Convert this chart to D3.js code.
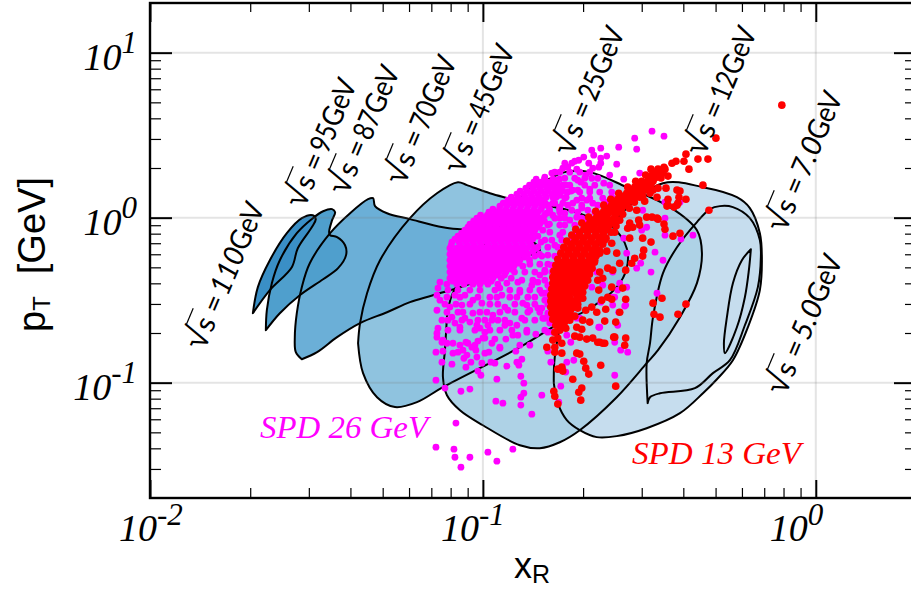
<!DOCTYPE html>
<html>
<head>
<title>pT vs xR coverage</title>
<script src="https://cdn.jsdelivr.net/npm/d3@7"></script>
<style>
    html, body { margin: 0; padding: 0; background: #fff; overflow: hidden; }
    svg { display: block; }
    .ser { font-family: 'Liberation Serif', serif; font-style: italic; }
    .san { font-family: 'Liberation Sans', sans-serif; }
    .lab { font-family: Lato, sans-serif; }
</style>
</head>
<body>
<div id="visDiv"></div>
<script>

// contour of each experiment, drawn from the widest to the narrowest
var region5 = [[-.195,-.191],[-.222,-.258],[-.249,-.397],[-.267,-.603],[-.276,-.761],[-.273,-.821],[-.237,-.664],[-.213,-.482],[-.201,-.318],[-.195,-.191]];
var region7 = [[-.505,-1.124],[-.508,-.882],[-.498,-.761],[-.489,-.603],[-.459,-.336],[-.417,-.179],[-.357,-.027],[-.318,.052],[-.288,.070],[-.249,.064],[-.198,-.003],[-.168,-.136],[-.165,-.239],[-.174,-.421],[-.213,-.652],[-.258,-.864],[-.309,-.942],[-.363,-1.033],[-.468,-1.064],[-.498,-1.088],[-.505,-1.124]];
var region12 = [[-.787,-1.003],[-.784,-.845],[-.754,-.561],[-.679,-.258],[-.589,.015],[-.459,.209],[-.339,.185],[-.237,.124],[-.198,.058],[-.168,-.094],[-.162,-.239],[-.168,-.439],[-.204,-.664],[-.249,-.864],[-.297,-.979],[-.339,-1.064],[-.408,-1.185],[-.508,-1.276],[-.598,-1.324],[-.658,-1.330],[-.709,-1.288],[-.748,-1.227],[-.775,-1.124],[-.787,-1.003]];
var region25 = [[-1.108,-.603],[-1.093,-.470],[-1.039,-.288],[-.949,-.045],[-.874,.155],[-.808,.227],[-.754,.276],[-.679,.276],[-.568,.185],[-.438,.064],[-.357,-.076],[-.342,-.215],[-.357,-.397],[-.408,-.603],[-.474,-.803],[-.508,-.882],[-.598,-1.088],[-.709,-1.288],[-.769,-1.361],[-.829,-1.397],[-.889,-1.379],[-1,-1.258],[-1.069,-1.167],[-1.108,-1.076],[-1.120,-.967],[-1.114,-.803],[-1.108,-.603]];
var region45 = [[-1.375,-.761],[-1.369,-.639],[-1.348,-.458],[-1.309,-.258],[-1.219,-.003],[-1.138,.148],[-1.075,.215],[-1.048,.197],[-.979,.148],[-.925,.118],[-.868,.088],[-.769,.058],[-.688,.009],[-.610,-.058],[-.568,-.185],[-.568,-.306],[-.598,-.421],[-.688,-.561],[-.769,-.639],[-.889,-.785],[-1.120,-1.027],[-1.198,-1.118],[-1.264,-1.148],[-1.318,-1.088],[-1.360,-.942],[-1.375,-.761]];
var region70 = [[-1.544,-.858],[-1.562,-.815],[-1.565,-.724],[-1.559,-.579],[-1.544,-.421],[-1.520,-.276],[-1.459,-.094],[-1.399,.027],[-1.345,.112],[-1.330,.118],[-1.324,.070],[-1.288,.027],[-1.219,-.009],[-1.120,-.058],[-1.048,-.076],[-.949,-.106],[-.859,-.136],[-.829,-.197],[-.889,-.246],[-.934,-.276],[-1.018,-.385],[-1.150,-.470],[-1.219,-.512],[-1.288,-.573],[-1.369,-.639],[-1.438,-.724],[-1.498,-.815],[-1.544,-.858]];
var region95 = [[-1.652,-.682],[-1.649,-.561],[-1.634,-.397],[-1.610,-.258],[-1.559,-.094],[-1.511,-.003],[-1.480,.039],[-1.453,.052],[-1.444,.033],[-1.453,-.015],[-1.462,-.088],[-1.459,-.106],[-1.438,-.118],[-1.414,-.167],[-1.411,-.227],[-1.435,-.306],[-1.480,-.373],[-1.550,-.470],[-1.610,-.579],[-1.652,-.682]];
var region110 = [[-1.691,-.579],[-1.676,-.421],[-1.640,-.258],[-1.589,-.094],[-1.544,-.003],[-1.511,.015],[-1.502,-.009],[-1.514,-.058],[-1.556,-.185],[-1.574,-.300],[-1.640,-.439],[-1.691,-.579]];

// SPD 26 GeV, rows of the dense core: [log10 pT, [log10 xR ...]]
var magentaCore = [
    [.233, [-.84,-.815,-.79,-.77]],
    [.215, [-.847,-.826,-.805,-.784]],
    [.197, [-.86,-.84,-.818,-.797,-.776,-.75]],
    [.179, [-.871,-.85,-.829,-.808,-.787,-.766]],
    [.161, [-.888,-.867,-.846,-.825,-.804,-.783,-.76,-.735]],
    [.142, [-.898,-.877,-.856,-.835,-.814,-.793,-.772]],
    [.124, [-.915,-.894,-.873,-.852,-.831,-.81,-.78,-.75]],
    [.106, [-.925,-.904,-.883,-.862,-.841]],
    [.088, [-.939,-.918,-.897,-.876,-.855,-.834,-.813,-.79,-.76]],
    [.07, [-.949,-.928,-.907,-.886,-.865,-.844,-.823]],
    [.051, [-.97,-.95,-.93,-.909,-.888,-.867,-.846,-.825,-.8,-.77]],
    [.033, [-.982,-.961,-.94,-.919,-.898,-.877,-.856,-.835]],
    [.015, [-1.007,-.987,-.966,-.945,-.924,-.903,-.882,-.861,-.84,-.815]],
    [-.003, [-1.018,-.997,-.976,-.955,-.934,-.913,-.892,-.871,-.85,-.829]],
    [-.021, [-1.028,-1.007,-.986,-.965,-.944,-.923,-.902,-.881,-.86,-.839,-.815]],
    [-.039, [-1.039,-1.018,-.997,-.976,-.955,-.934,-.913,-.892,-.871,-.85,-.829,-.8]],
    [-.057, [-1.045,-1.024,-1.003,-.982,-.961,-.94,-.919,-.898,-.877,-.856,-.835]],
    [-.076, [-1.054,-1.033,-1.012,-.991,-.97,-.949,-.928,-.907,-.886,-.865,-.844,-.82]],
    [-.094, [-1.064,-1.043,-1.022,-1.001,-.98,-.959,-.938,-.917,-.896,-.875,-.85]],
    [-.112, [-1.075,-1.054,-1.033,-1.012,-.991,-.97,-.949,-.928,-.907,-.886,-.865,-.835]],
    [-.13, [-1.084,-1.063,-1.042,-1.021,-1,-.979,-.958,-.937,-.916,-.895,-.874,-.85]],
    [-.148, [-1.093,-1.072,-1.051,-1.03,-1.009,-.988,-.967,-.946,-.925,-.904,-.883,-.862,-.825]],
    [-.166, [-1.095,-1.068,-1.047,-1.026,-1.005,-.984,-.963,-.942,-.921,-.9,-.879,-.855]],
    [-.185, [-1.099,-1.078,-1.057,-1.036,-1.015,-.994,-.973,-.952,-.931,-.91,-.889,-.868,-.84]],
    [-.203, [-1.088,-1.067,-1.046,-1.025,-1.004,-.983,-.962,-.941,-.92,-.899,-.878,-.85]],
    [-.221, [-1.099,-1.075,-1.054,-1.033,-1.012,-.991,-.97,-.949,-.928,-.907,-.886,-.865,-.83]],
    [-.239, [-1.088,-1.064,-1.043,-1.022,-1.001,-.98,-.959,-.938,-.917,-.896,-.875]],
    [-.258, [-1.099,-1.078,-1.057,-1.036,-1.015,-.994,-.973,-.952,-.931,-.91,-.889,-.86]],
    [-.276, [-1.088,-1.067,-1.046,-1.025,-1.004,-.983,-.962,-.941,-.92,-.895]],
    [-.294, [-1.099,-1.075,-1.054,-1.033,-1.012,-.991,-.97,-.949,-.928,-.907,-.88]],
    [-.312, [-1.088,-1.064,-1.043,-1.022,-1.001,-.98,-.959,-.938,-.917]],
    [-.33, [-1.099,-1.078,-1.057,-1.036,-1.015,-.994,-.973,-.952,-.931,-.905]],
    [-.348, [-1.088,-1.067,-1.046,-1.025,-1.004,-.983,-.96,-.935]],
    [-.367, [-1.099,-1.075,-1.054,-1.033,-1.012,-.991,-.97,-.945,-.915]],
    [-.385, [-1.09,-1.064,-1.043,-1.02,-.998,-.975]],
    [-.403, [-1.108,-1.078,-1.057,-1.03,-1.009,-.985,-.955]]
];
// SPD 26 GeV, looser rows toward the red band and below the core
var magentaLoose = [
    [.276, [-.769,-.739,-.709,-.679]],
    [.239, [-.754,-.724,-.694,-.655]],
    [.197, [-.739,-.694,-.664,-.619]],
    [.155, [-.745,-.709,-.679,-.649,-.613]],
    [.118, [-.754,-.679,-.640,-.589]],
    [.076, [-.814,-.745,-.703,-.655,-.619]],
    [.033, [-.799,-.769,-.715,-.664,-.631]],
    [-.003, [-.784,-.754,-.703,-.661]],
    [-.045, [-.805,-.769,-.724,-.679]],
    [-.088, [-.799,-.760,-.715]],
    [-.136, [-.814,-.793,-.763,-.733]],
    [-.179, [-.835,-.805,-.775]],
    [-.233, [-.844,-.823,-.784]],
    [-.282, [-.859,-.829,-.805,-.775]],
    [-.33, [-.874,-.844,-.814,-.793]],
    [-.379, [-.883,-.814,-.784]],
    [-.439, [-1.105,-1.075,-1.039,-1.009,-.964,-.889,-.859,-.829,-.799]],
    [-.482, [-1.069,-1.015,-.958,-.919,-.865,-.799]],
    [-.524, [-1.114,-1.081,-1.039,-.979,-.955,-.904,-.844,-.805]],
    [-.573, [-1.108,-1.075,-1.009,-.988,-.949,-.904,-.865,-.829]],
    [-.621, [-1.105,-1.063,-1.015,-.973,-.934,-.874,-.844]],
    [-.682, [-1.105,-1.069,-1.024,-.979,-.949,-.913,-.868,-.814]],
    [-.773, [-1.069,-1.024,-.889,-.859]]
];
// SPD 26 GeV, single points around the core
var magentaLow = [[-1.081,-1.245],[-1.141,-1.391],[-1.087,-1.403],[-1.084,-1.452],[-1.039,-1.452],[-1.066,-1.512],[-.985,-1.421],[-.958,-1.476],[-.910,-1.403],[-.853,-1.191],[-.886,-1.136],[-.940,-1.124],[-.961,-1.112],[-1.039,-1.039],[-1.066,-1.052],[-1.114,-1.033],[-1.141,-.985],[-.958,-.979],[-.877,-1.003],[-.877,-1.064],[-.886,-1.088],[-.823,-1.076],[-.766,-1.021],[-.604,-.955],[-.883,-.858],[-.886,-.961],[-.928,-.900],[-.898,-.876],[-.892,-.894],[-1.003,-.882],[-.964,-.882],[-.976,-.876],[-1.015,-.930],[-1.006,-.955],[-1.018,-.845],[-1.051,-.906],[-1.093,-.888],[-1.123,-.876],[-1.141,-.815],[-1.120,-.809],[-1.090,-.821],[-1.075,-.815],[-1.057,-.852],[-1.036,-.876],[-1.021,-.803],[-.994,-.821],[-.982,-.815],[-.949,-.791],[-.901,-.809],[-1.015,-.748],[-1.051,-.755],[-1.090,-.761],[-1.123,-.755],[-1.138,-.700],[-.931,-.736],[-.964,-.736],[-.994,-.730],[-.973,-.761],[-.910,-.712],[-.895,-.712],[-.868,-.694],[-.841,-.706],[-.817,-.609],[-.805,-.809],[-.796,-.876],[-.748,-.876],[-.727,-.864],[-.736,-.755],[-.760,-.912],[-.751,-.936],[-.772,-1.118],[-.649,-.664],[-.595,-.652],[-.586,-.803],[-.565,-.815],[-.604,-.755],[-.718,-.609]];
var magentaHigh = [[-.492,.524],[-.544,.482],[-.456,.494],[-.538,.415],[-.592,.427],[-.646,.421],[-.673,.409],[-.697,.367],[-.667,.379],[-.628,.373],[-.646,.361],[-.646,.330],[-.598,.324],[-.682,.330],[-.670,.300],[-.652,.306],[-.619,.258],[-.577,.233],[-.529,.270],[-.712,.348],[-.724,.342],[-.733,.330],[-.754,.330],[-.760,.300],[-.745,.306],[-.718,.294],[-.691,.258],[-.673,.239],[-.715,.227],[-.706,.215],[-.637,.209],[-.679,.173],[-.730,.167],[-.715,.167],[-.760,.197],[-.775,.227],[-.784,.276],[-.793,.270],[-.814,.245],[-.805,.185],[-.772,.167],[-.769,.136],[-.790,.124],[-.613,.124],[-.634,.094],[-.598,.094],[-.703,.118],[-.718,.106],[-.688,.106],[-.670,.088],[-.730,.088],[-.733,.045],[-.703,.058],[-.685,.045],[-.658,.027],[-.754,.027],[-.769,.064],[-.784,.088],[-.805,.076],[-.820,.106],[-.808,.027],[-.790,.015],[-.769,-.003],[-.739,-.015],[-.718,.003],[-.688,-.027],[-.520,.045],[-.453,.094],[-.453,-.003],[-.508,-.058],[-.523,-.076],[-.453,-.106],[-.369,-.106],[-.408,.094]];
var magentaMid = [[-.568,-.215],[-.483,-.209],[-.459,-.258],[-.495,-.330],[-.526,-.276],[-.538,-.306],[-.477,-.458],[-.571,-.530],[-.652,-.664],[-.405,-.130],[-.577,-.124],[-.568,-.421],[-.589,-.397],[-.610,-.482],[-.640,-.409],[-.673,-.421],[-.658,-.330],[-.610,-.330],[-1.129,-.391],[-1.135,-.427],[-1.138,-.470],[-1.129,-.500],[-1.108,-.482],[-1.138,-.561],[-1.123,-.621],[-1.135,-.670],[-1.138,-.724],[-1.120,-.742],[-1.108,-.761],[-1.060,-.803],[-1.045,-.761],[-1.000,-.730],[-.994,-.694],[-.805,-.694],[-1.099,-.542],[-1.093,-.603],[-1.084,-.639],[-1.069,-.664],[-1.054,-.609],[-1.030,-.579],[-1.039,-.633],[-1.018,-.652],[-.994,-.621],[-.970,-.591],[-.955,-.621],[-.934,-.652],[-.919,-.639],[-.898,-.652],[-.883,-.609],[-.868,-.530],[-.859,-.561],[-.835,-.548],[-.823,-.548],[-.814,-.500],[-.808,-.609],[-.799,-.639],[-1.063,-.530],[-1.030,-.500],[-1.003,-.518],[-.979,-.482],[-.943,-.470],[-.919,-.439],[-.898,-.482],[-.880,-.518],[-.934,-.542],[-.925,-.561],[-.844,-.482],[-.823,-.458],[-.850,-.379],[-.835,-.391],[-.895,-.391],[-.928,-.397],[-.889,-.452],[-.853,-.409],[-.949,-.427],[-1.054,-.470],[-1.084,-.470],[-1.060,-.573],[-1.009,-.670],[-.985,-.652],[-1.033,-.785],[-1.048,-.833],[-.949,-.785],[-.805,-.227],[-.793,-.288],[-.814,-.318],[-.829,-.348],[-.781,-.379],[-.805,-.409],[-.784,-.167],[-.769,-.106],[-.754,-.045],[-.814,-.458],[-.805,-.579],[-.820,-.609],[-.790,-.694],[-.748,-.712],[-.574,-.536],[-.592,-.573],[-.610,-.530],[-.646,-.512],[-.604,-.482],[-.595,-.439],[-.709,-.609]];

// SPD 13 GeV, rows of the dense band
var redCore = [
    [-.652, [-.781,-.763]],
    [-.634, [-.775,-.755]],
    [-.615, [-.79,-.766,-.745]],
    [-.597, [-.78,-.757,-.735]],
    [-.579, [-.793,-.769,-.742]],
    [-.561, [-.783,-.76,-.737]],
    [-.542, [-.796,-.772,-.748,-.727]],
    [-.524, [-.785,-.762,-.738,-.715]],
    [-.506, [-.796,-.775,-.751,-.724]],
    [-.488, [-.785,-.762,-.738,-.71]],
    [-.47, [-.796,-.772,-.748,-.718]],
    [-.452, [-.783,-.757,-.733,-.71]],
    [-.433, [-.793,-.769,-.745,-.721,-.709]],
    [-.415, [-.78,-.757,-.733,-.71,-.695]],
    [-.397, [-.79,-.766,-.742,-.718,-.703]],
    [-.379, [-.778,-.754,-.73,-.706,-.685]],
    [-.361, [-.79,-.766,-.742,-.718,-.694]],
    [-.343, [-.775,-.751,-.727,-.703,-.68]],
    [-.324, [-.787,-.763,-.739,-.715,-.685]],
    [-.306, [-.77,-.745,-.721,-.697,-.672]],
    [-.288, [-.781,-.757,-.733,-.709,-.682]],
    [-.27, [-.763,-.739,-.715,-.691,-.665]],
    [-.252, [-.775,-.751,-.727,-.703,-.676]],
    [-.233, [-.754,-.73,-.706,-.682,-.66]],
    [-.215, [-.766,-.742,-.718,-.694,-.67]],
    [-.197, [-.745,-.721,-.697,-.673,-.65]],
    [-.179, [-.757,-.733,-.709,-.685,-.661]],
    [-.161, [-.736,-.712,-.688,-.664,-.64]],
    [-.142, [-.748,-.724,-.7,-.676,-.652]],
    [-.124, [-.721,-.697,-.673,-.649,-.63]],
    [-.106, [-.733,-.709,-.685,-.661,-.64]],
    [-.088, [-.709,-.685,-.661,-.637,-.615]],
    [-.07, [-.721,-.697,-.673,-.649,-.628]],
    [-.051, [-.691,-.667,-.643,-.622,-.6]],
    [-.033, [-.703,-.679,-.655,-.631,-.616]],
    [-.015, [-.67,-.646,-.622,-.598]],
    [.003, [-.682,-.658,-.634,-.604]],
    [.021, [-.65,-.625,-.602,-.58]],
    [.039, [-.661,-.637,-.613,-.592]],
    [.057, [-.625,-.603,-.583,-.56]],
    [.076, [-.637,-.613,-.592,-.574]],
    [.094, [-.605,-.585,-.565,-.545]],
    [.112, [-.616,-.595,-.574,-.556]],
    [.13, [-.58,-.56,-.54,-.52]],
    [.148, [-.592,-.568,-.547,-.529]],
    [.166, [-.555,-.535,-.517,-.5]],
    [.185, [-.565,-.544,-.526,-.508]],
    [.203, [-.53,-.512,-.495]],
    [.221, [-.541,-.523,-.505,-.489]],
    [.24, [-.5,-.483,-.465]],
    [.258, [-.511,-.492,-.474]],
    [.276, [-.485,-.465]],
    [.294, [-.495,-.474,-.453]]
];
// SPD 13 GeV, single points around the band
var redPoints = [[-.102,.682],[-.300,.482],[-.390,.385],[-.324,.355],[-.354,.355],[-.381,.294],[-.396,.342],[-.420,.342],[-.432,.330],[-.456,.306],[-.444,.252],[-.459,.270],[-.339,.197],[-.321,.045],[-.450,.179],[-.408,.161],[-.417,.167],[-.411,.124],[-.417,.076],[-.444,.076],[-.477,.124],[-.474,.179],[-.489,.167],[-.498,.148],[-.514,.100],[-.529,.124],[-.538,.045],[-.532,-.015],[-.477,-.003],[-.492,.003],[-.508,.003],[-.456,-.039],[-.453,-.070],[-.429,-.112],[-.408,-.094],[-.559,-.033],[-.565,-.064],[-.589,-.015],[-.550,-.058],[-.529,-.045],[-.390,.112],[-.444,.112],[-.447,.070],[-.426,.064],[-.414,.088],[-.474,-.009],[-.495,-.148],[-.520,-.124],[-.559,-.124],[-.613,-.155],[-.598,-.215],[-.589,-.276],[-.571,-.318],[-.544,-.246],[-.553,-.276],[-.517,-.197],[-.520,-.233],[-.628,-.203],[-.649,-.215],[-.610,-.318],[-.625,-.306],[-.649,-.330],[-.640,-.367],[-.613,-.421],[-.580,-.427],[-.652,-.439],[-.700,-.452],[-.700,-.488],[-.643,-.500],[-.625,-.482],[-.613,-.494],[-.571,-.494],[-.589,-.573],[-.631,-.555],[-.658,-.573],[-.673,-.542],[-.691,-.561],[-.715,-.548],[-.730,-.542],[-.462,-.488],[-.489,-.518],[-.390,-.524],[-.486,-.585],[-.468,-.603],[-.414,-.585],[-.634,-.627],[-.601,-.633],[-.700,-.621],[-.718,-.664],[-.703,-.676],[-.607,-.724],[-.571,-.730],[-.574,-.773],[-.640,-.761],[-.655,-.755],[-.670,-.730],[-.688,-.736],[-.709,-.724],[-.724,-.718],[-.763,-.761],[-.775,-.730],[-.784,-.785],[-.808,-.785],[-.784,-.815],[-.763,-.821],[-.718,-.821],[-.709,-.827],[-.697,-.870],[-.646,-.894],[-.691,-.912],[-.682,-.948],[-.730,-.979],[-.775,-.918],[-.763,-.906],[-.760,-.930],[-.601,-1.021],[-.703,-1.033],[-.712,-1.058],[-.706,-1.106],[-.787,-1.052],[-.784,-1.082],[-.775,-1.130],[-.649,-.755],[-.634,-.761],[-.604,-.724],[-.769,-.682],[-.751,-.670],[-.739,-.621],[-.724,-.597],[-.679,-.633],[-.784,-.694],[-.790,-.742],[-.679,-.318],[-.694,-.409],[-.664,-.258],[-.634,-.136],[-.604,-.088],[-.655,-.379]];

var energyLabels = ["110", "95", "87", "70", "45", "25", "12", "7.0", "5.0"];
var xDecades = [0.1, 1];
var xLabelExps = ["-2", "-1", "0"];
var xLabelVals = [0.01, 0.1, 1];
var yDecades = [10, 1, 0.1];
var yLabelExps = ["1", "0", "-1"];

var width = 911, height = 591;
var svg = d3.select("#visDiv").append("svg").attr("width", width).attr("height", height);

/* Scales */
var x = d3.scaleLog().domain([0.01, 2]).range([150, 916]);
var y = d3.scaleLog().domain([0.02, 20]).range([498, 3]);

var contour = d3.line()
    .x(function (d) { return x(Math.pow(10, d[0])); })
    .y(function (d) { return y(Math.pow(10, d[1])); })
    .curve(d3.curveCatmullRom.alpha(0.5));

/* Filled regions first, opaque, then every outline on top */
var regions = [
    { pts: region12, fill: "#c6ddee" },
    { pts: region7, fill: "#c6ddee" },
    { pts: region5, fill: "#c6ddee" },
    { pts: region25, fill: "#aed2e6" },
    { pts: region45, fill: "#8fc3df" },
    { pts: region70, fill: "#6bafd7" },
    { pts: region95, fill: "#4f9fcd" },
    { pts: region110, fill: "#3a8fc6" }
];
svg.selectAll(".fill").data(regions).enter().append("path")
    .attr("d", function (d) { return contour(d.pts) + "Z"; })
    .attr("fill", function (d) { return d.fill; });
svg.selectAll(".outline").data(regions).enter().append("path")
    .attr("d", function (d) { return contour(d.pts) + "Z"; })
    .attr("fill", "none")
    .attr("stroke", "#000")
    .attr("stroke-width", 2)
    .attr("stroke-linejoin", "round");

/* Grid at the decades */
svg.selectAll(".gx").data(xDecades).enter().append("line")
    .attr("x1", function (d) { return x(d); }).attr("x2", function (d) { return x(d); })
    .attr("y1", 3).attr("y2", 498)
    .attr("stroke", "#777").attr("stroke-opacity", 0.2).attr("stroke-width", 2);
svg.selectAll(".gy").data(yDecades).enter().append("line")
    .attr("x1", 150).attr("x2", 916)
    .attr("y1", function (d) { return y(d); }).attr("y2", function (d) { return y(d); })
    .attr("stroke", "#777").attr("stroke-opacity", 0.2).attr("stroke-width", 2);

/* Points */
function unrow(rows) {
    return rows.reduce(function (acc, r) {
        return acc.concat(r[1].map(function (v) { return [v, r[0]]; }));
    }, []);
}
function dots(data, color, r) {
    svg.append("g").selectAll("circle").data(data).enter().append("circle")
        .attr("cx", function (d) { return x(Math.pow(10, d[0])); })
        .attr("cy", function (d) { return y(Math.pow(10, d[1])); })
        .attr("r", r)
        .attr("fill", color);
}
dots(unrow(magentaCore).concat(unrow(magentaLoose), magentaLow, magentaHigh, magentaMid), "#ff00ff", 3.4);
dots(unrow(redCore).concat(redPoints), "#ff0000", 3.8);

/* Axes: minor and major ticks on all four sides */
function decadeTicks(lo, hi) {
    var out = [];
    for (var e = lo; e <= hi; e++) {
        for (var m = 2; m <= 9; m++) out.push(m * Math.pow(10, e));
    }
    return out;
}
var xMinor = decadeTicks(-2, -1), xMajor = [0.01, 0.1, 1];
var yMinor = decadeTicks(-2, 0).filter(function (v) { return v > 0.02 && v < 20; });
var yMajor = [0.1, 1, 10];

function addAxis(gen, values, size, tx, ty, sw) {
    var g = svg.append("g")
        .attr("transform", "translate(" + tx + "," + ty + ")")
        .call(gen.tickValues(values).tickSize(size).tickFormat(""));
    g.select(".domain").remove();
    g.selectAll("line").attr("stroke", "#000").attr("stroke-width", sw);
}
addAxis(d3.axisBottom(x), xMinor, -10, 0, 498, 1.2);
addAxis(d3.axisBottom(x), xMajor, -18, 0, 498, 2);
addAxis(d3.axisTop(x), xMinor, -9, 0, 3, 1.2);
addAxis(d3.axisTop(x), xMajor, -19, 0, 3, 2);
addAxis(d3.axisLeft(y), yMinor, -11, 150, 0, 1.2);
addAxis(d3.axisLeft(y), yMajor, -22, 150, 0, 2);
addAxis(d3.axisRight(y), yMinor, -11, 916, 0, 1.2);
addAxis(d3.axisRight(y), yMajor, -22, 916, 0, 2);

svg.append("rect").attr("x", 150).attr("y", 3).attr("width", 766).attr("height", 495)
    .attr("fill", "none").attr("stroke", "#000").attr("stroke-width", 2.4);

/* Tick labels */
var xLabelShift = [-31, -42, -46];
xLabelVals.forEach(function (v, i) {
    var t = svg.append("text").attr("class", "ser")
        .attr("x", x(v) + xLabelShift[i]).attr("y", 541).attr("font-size", 38);
    t.append("tspan").text("10");
    t.append("tspan").attr("dy", -16).attr("font-size", 31).text(xLabelExps[i]);
});
yDecades.forEach(function (v, i) {
    var t = svg.append("text").attr("class", "ser")
        .attr("x", 137).attr("y", y(v) + 17).attr("text-anchor", "end").attr("font-size", 38);
    t.append("tspan").text("10");
    t.append("tspan").attr("dy", -17).attr("font-size", 31).text(yLabelExps[i]);
});

/* Axis titles */
var xTitle = svg.append("text").attr("class", "san").attr("x", 514).attr("y", 578).attr("font-size", 36);
xTitle.append("tspan").text("x");
xTitle.append("tspan").attr("dy", 5).attr("font-size", 25).text("R");

var yTitle = svg.append("text").attr("class", "san")
    .attr("transform", "translate(45,332) rotate(-90)").attr("font-size", 38);
yTitle.append("tspan").text("p");
yTitle.append("tspan").attr("dy", 5).attr("font-size", 24).text("T");
yTitle.append("tspan").attr("dy", -5).attr("dx", 22).text("[GeV]");

/* Energy labels along the contours, pieces placed along the rotated baseline */
var labelAnchors = [[204, 352], [304, 210], [347, 197], [404, 187], [462, 176], [572, 158], [704, 158], [785, 234], [785, 397]];
var numWidth = [48, 28, 28, 28, 28, 28, 28, 40, 40];
energyLabels.forEach(function (e, i) {
    var g = svg.append("g").attr("class", "lab")
        .attr("transform", "translate(" + labelAnchors[i][0] + "," + labelAnchors[i][1] + ") rotate(-67)");
    g.append("text").attr("class", "san").attr("font-size", 36).attr("font-weight", 300).text("\u221A");
    g.append("line").attr("x1", 19).attr("x2", 36).attr("y1", -27).attr("y2", -27)
        .attr("stroke", "#000").attr("stroke-width", 1.2);
    g.append("text").attr("x", 20).attr("font-size", 29).text("s");
    g.append("text").attr("x", 40).attr("font-size", 29).text("=");
    g.append("text").attr("x", 60).attr("font-size", 29)
        .attr("font-style", e.length == 3 ? "italic" : "normal")
        .attr("textLength", numWidth[i]).attr("lengthAdjust", "spacingAndGlyphs").text(e);
    g.append("text").attr("x", 60 + numWidth[i]).attr("font-size", 29)
        .attr("textLength", 49).attr("lengthAdjust", "spacingAndGlyphs").text("GeV");
});

/* Data set names */
svg.append("text").attr("class", "ser").attr("x", 260).attr("y", 438)
    .attr("font-size", 32).attr("textLength", 168).attr("lengthAdjust", "spacingAndGlyphs")
    .attr("fill", "#ff00ff").text("SPD 26 GeV");
svg.append("text").attr("class", "ser").attr("x", 632).attr("y", 464)
    .attr("font-size", 32).attr("textLength", 169).attr("lengthAdjust", "spacingAndGlyphs")
    .attr("fill", "#ff0000").text("SPD 13 GeV");
</script>
</body>
</html>
